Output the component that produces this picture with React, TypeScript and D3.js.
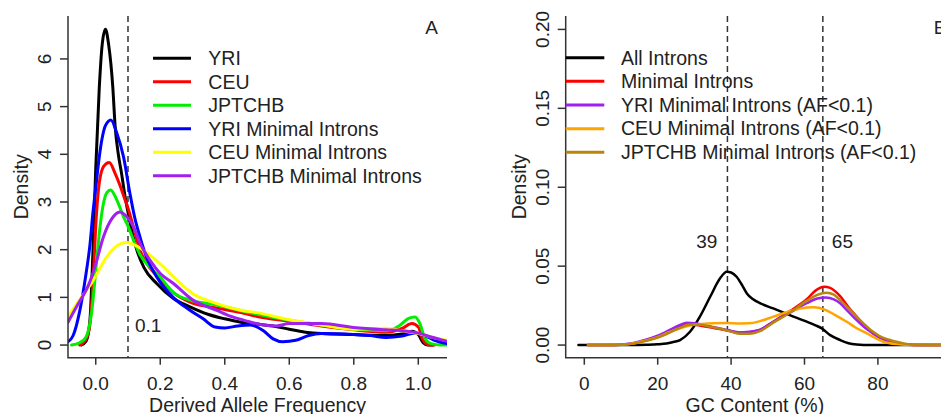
import React from 'react'
import * as d3 from 'd3'

// ---- panel A: derived allele frequency densities [freq, density]
const yriAll = [[-0.045,0],[-0.03,0.08],[-0.018,0.52],[-0.009,1.9],[0.0,3.7],[0.011,5.4],[0.02,6.3],[0.03,6.62],[0.04,6.3],[0.053,5.4],[0.06,4.6],[0.07,4.0],[0.08,3.6],[0.09,3.15],[0.101,2.75],[0.115,2.3],[0.127,2.0],[0.15,1.62],[0.189,1.29],[0.24,0.98],[0.292,0.8],[0.35,0.64],[0.4,0.55],[0.45,0.48],[0.5,0.44],[0.55,0.4],[0.6,0.33],[0.65,0.27],[0.7,0.24],[0.8,0.22],[0.9,0.2],[0.95,0.23],[0.98,0.29],[1.0,0.22],[1.015,0.05],[1.03,0],[1.045,0]]
const ceuAll = [[-0.05,0],[-0.035,0.07],[-0.02,0.35],[-0.009,1.23],[0.0,2.5],[0.011,3.4],[0.025,3.75],[0.042,3.83],[0.06,3.6],[0.075,3.35],[0.088,3.1],[0.101,2.85],[0.12,2.4],[0.137,2.0],[0.17,1.6],[0.2,1.38],[0.241,1.1],[0.3,0.88],[0.375,0.78],[0.45,0.68],[0.5,0.6],[0.6,0.5],[0.7,0.4],[0.8,0.32],[0.9,0.27],[0.95,0.35],[0.98,0.45],[1.0,0.38],[1.015,0.1],[1.035,0],[1.05,0]]
const jptchbAll = [[-0.075,0],[-0.05,0.05],[-0.03,0.17],[-0.012,0.73],[0.003,1.78],[0.012,2.4],[0.022,2.9],[0.035,3.2],[0.046,3.25],[0.06,3.12],[0.073,2.92],[0.086,2.69],[0.101,2.48],[0.12,2.15],[0.137,1.9],[0.17,1.62],[0.2,1.42],[0.241,1.1],[0.3,0.93],[0.375,0.84],[0.45,0.72],[0.5,0.65],[0.6,0.52],[0.7,0.42],[0.8,0.33],[0.9,0.3],[0.94,0.4],[0.97,0.56],[0.99,0.59],[1.005,0.45],[1.02,0.15],[1.04,0.03],[1.07,0],[1.089,0]]
const yriMinimal = [[-0.086,0.07],[-0.07,0.2],[-0.05,0.7],[-0.03,1.5],[-0.018,2.1],[-0.009,2.76],[0.0,3.3],[0.013,4.05],[0.03,4.6],[0.047,4.72],[0.065,4.45],[0.086,3.95],[0.106,3.18],[0.12,2.7],[0.137,2.27],[0.16,1.8],[0.189,1.43],[0.24,1.0],[0.292,0.73],[0.333,0.55],[0.37,0.38],[0.4,0.36],[0.44,0.4],[0.48,0.42],[0.52,0.3],[0.55,0.13],[0.58,0.07],[0.62,0.1],[0.66,0.2],[0.7,0.24],[0.8,0.22],[0.85,0.2],[0.9,0.16],[0.95,0.19],[0.99,0.25],[1.02,0.2],[1.05,0.1],[1.089,0.03]]
const ceuMinimal = [[-0.086,0.6],[-0.05,0.95],[-0.018,1.25],[0.0,1.45],[0.034,1.85],[0.06,2.05],[0.096,2.15],[0.12,2.1],[0.148,1.99],[0.2,1.7],[0.241,1.43],[0.3,1.08],[0.375,0.87],[0.45,0.73],[0.5,0.68],[0.6,0.53],[0.7,0.42],[0.8,0.33],[0.9,0.35],[0.95,0.3],[1.0,0.24],[1.05,0.15],[1.089,0.1]]
const jptchbMinimal = [[-0.086,0.48],[-0.06,0.8],[-0.03,1.15],[-0.018,1.33],[0.0,1.7],[0.024,2.27],[0.05,2.65],[0.075,2.79],[0.095,2.7],[0.117,2.48],[0.14,2.1],[0.168,1.78],[0.2,1.5],[0.241,1.29],[0.3,0.95],[0.375,0.73],[0.42,0.6],[0.47,0.5],[0.52,0.42],[0.56,0.4],[0.6,0.45],[0.7,0.45],[0.8,0.37],[0.9,0.32],[0.95,0.3],[1.0,0.25],[1.04,0.17],[1.089,0.08]]

const labelsA = ['YRI', 'CEU', 'JPTCHB', 'YRI Minimal Introns', 'CEU Minimal Introns', 'JPTCHB Minimal Introns']
const xTicksA = [0, 0.2, 0.4, 0.6, 0.8, 1.0]
const yTicksA = [0, 1, 2, 3, 4, 5, 6]
const cutoffA = [0.1]

// ---- panel B: GC content densities [gc %, density]
const allIntrons = [[-1.6,0],[5,0],[12,0],[17,0.0002],[20,0.0005],[22.4,0.001],[24,0.0018],[26.1,0.0032],[28.8,0.0084],[31.5,0.018],[34.3,0.0306],[37,0.0423],[38.8,0.0465],[40,0.046],[41.5,0.0433],[43,0.038],[44.3,0.0327],[46,0.029],[48,0.0264],[51.5,0.0232],[56,0.019],[60.6,0.0148],[63,0.0125],[64.7,0.0106],[67,0.0063],[69.7,0.0032],[72,0.0012],[74.2,0.0004],[78,0],[85,0],[99.6,0]]
const minimalIntrons = [[1,0],[8,0],[12,0.0006],[16,0.0025],[20,0.005],[22.4,0.0074],[25,0.011],[27.9,0.013],[30,0.0128],[33,0.0118],[36,0.0105],[39,0.0092],[42.4,0.0078],[45,0.0082],[48,0.0098],[51.5,0.0148],[56,0.0215],[60.6,0.029],[63,0.0345],[65.3,0.037],[67,0.0362],[69.7,0.031],[72,0.024],[74.2,0.018],[76.5,0.012],[78.7,0.0074],[81,0.0042],[83.3,0.0021],[87,0.0005],[90,0],[99.6,0]]
const yriLowAF = [[1,0],[8,0],[12,0.0008],[16,0.003],[20,0.006],[22.4,0.0085],[26.1,0.0127],[27.9,0.0141],[30,0.0138],[33,0.0125],[36,0.011],[39,0.0095],[42.4,0.008],[45,0.0085],[48,0.0098],[51.5,0.0148],[56,0.0205],[60.6,0.0265],[63.5,0.0295],[65.8,0.0302],[68,0.029],[69.7,0.0265],[72,0.021],[74.2,0.0158],[76.5,0.011],[78.7,0.0074],[81,0.0042],[83.3,0.0021],[87,0.0005],[90,0],[99.6,0]]
const ceuLowAF = [[1,0],[8,0],[12,0.0006],[16,0.0025],[20,0.005],[23,0.008],[26.1,0.0106],[29.7,0.0128],[32,0.0133],[35.1,0.0138],[38.8,0.014],[42.4,0.0137],[45,0.0138],[47.9,0.0152],[51.5,0.018],[56,0.0215],[60.6,0.0238],[62.5,0.024],[65.5,0.0225],[68,0.0195],[71.5,0.0148],[74,0.011],[77,0.0074],[79.5,0.0042],[81.5,0.0021],[85,0.0006],[90,0],[99.6,0]]
const jptchbLowAF = [[1,0],[8,0],[12,0.0005],[16,0.0022],[20,0.0048],[22.4,0.007],[26.1,0.011],[28.5,0.0128],[31,0.013],[34,0.0118],[37,0.0103],[40,0.0085],[42.4,0.0072],[45,0.0072],[48,0.009],[51.5,0.0142],[56,0.0205],[60.6,0.028],[63.5,0.0318],[66,0.0331],[68,0.032],[69.7,0.0285],[72,0.0232],[74.2,0.018],[76.5,0.0128],[78.7,0.0084],[81,0.005],[83.3,0.0032],[87,0.001],[90,0.0002],[99.6,0]]

const labelsB = ['All Introns', 'Minimal Introns', 'YRI Minimal Introns (AF<0.1)', 'CEU Minimal Introns (AF<0.1)', 'JPTCHB Minimal Introns (AF<0.1)']
const xTicksB = [0, 20, 40, 60, 80]
const yTicksB = [0, 0.05, 0.1, 0.15, 0.2]
const peaksB = [39, 65]

const colorsA = ['#000000', '#ff0000', '#00ee00', '#0000ff', '#ffff00', '#a020f0']
const colorsB = ['#000000', '#ff0000', '#a020f0', '#ffa500', '#b8860b']

const FONT = '"Liberation Sans", Arial, Helvetica, sans-serif'
const INK = '#222'
const AXIS = '#333'

// plot regions (R style "l" box)
const A = { left: 68, right: 447, top: 16, bottom: 357.7 }
const B = { left: 565.7, right: 950, top: 16, bottom: 357.7 }

const xA = d3.scaleLinear().domain([-0.086, 1.089]).range([A.left, A.right])
const yA = d3.scaleLinear().domain([-0.265, 6.9]).range([A.bottom, A.top])
const xB = d3.scaleLinear().domain([-5.07, 99.65]).range([B.left, B.right])
const yB = d3.scaleLinear().domain([-0.008, 0.2085]).range([B.bottom, B.top])

function Panel({ id, box, x, y, series, colors, lineWidth, xTicks, yTicks, xFmt, yFmt, xTitle, tag }) {
  const line = d3.line()
    .x(d => x(d[0]))
    .y(d => y(d[1]))
    .curve(d3.curveMonotoneX)
  const midY = (box.top + box.bottom) / 2

  return (
    <g>
      <defs>
        <clipPath id={id}>
          <rect x={box.left} y={box.top} width={box.right - box.left} height={box.bottom - box.top} />
        </clipPath>
      </defs>

      <g clipPath={`url(#${id})`} fill="none" strokeLinejoin="round" strokeLinecap="round">
        {series.map((pts, i) => (
          <path key={i} d={line(pts)} stroke={colors[i]} strokeWidth={lineWidth} />
        ))}
      </g>

      {/* box: left + bottom */}
      <path d={`M${box.left},${box.top}V${box.bottom}H${box.right}`} fill="none" stroke={AXIS} strokeWidth={1.5} />

      {/* x axis */}
      {xTicks.map(t => (
        <g key={'x' + t}>
          <line x1={x(t)} x2={x(t)} y1={box.bottom} y2={box.bottom + 7} stroke={AXIS} strokeWidth={1.5} />
          <text x={x(t)} y={390} textAnchor="middle" fontSize={19} fill={INK}>{xFmt(t)}</text>
        </g>
      ))}
      <text x={(box.left + Math.min(box.right, 941 + 3)) / 2} y={412} textAnchor="middle" fontSize={19.5} fill={INK}>{xTitle}</text>

      {/* y axis, labels rotated like R's las=0 */}
      {yTicks.map(t => (
        <g key={'y' + t}>
          <line x1={box.left - 8} x2={box.left} y1={y(t)} y2={y(t)} stroke={AXIS} strokeWidth={1.5} />
          <text transform={`translate(${box.left - 17},${y(t)}) rotate(-90)`} textAnchor="middle" fontSize={19} fill={INK}>{yFmt(t)}</text>
        </g>
      ))}
      <text transform={`translate(${box.left - 40},${midY}) rotate(-90)`} textAnchor="middle" fontSize={19.5} fill={INK}>Density</text>

      <text x={tag.x} y={33.5} textAnchor="middle" fontSize={19} fill={INK}>{tag.text}</text>
    </g>
  )
}

function Legend({ x0, x1, textX, y0, step, labels, colors }) {
  return (
    <g>
      {labels.map((lab, i) => {
        const yy = y0 + i * step
        return (
          <g key={lab}>
            <line x1={x0} x2={x1} y1={yy} y2={yy} stroke={colors[i]} strokeWidth={3} />
            <text x={textX} y={yy + 6.8} fontSize={19.5} fill={INK}>{lab}</text>
          </g>
        )
      })}
    </g>
  )
}

export default function App() {
  const seriesA = [yriAll, ceuAll, jptchbAll, yriMinimal, ceuMinimal, jptchbMinimal]
  const seriesB = [allIntrons, minimalIntrons, yriLowAF, ceuLowAF, jptchbLowAF]

  return (
    <svg width={941} height={414} style={{ position: 'absolute', left: 0, top: 0, background: '#fff' }} fontFamily={FONT}>
      {/* panel A */}
      {cutoffA.map(c => (
        <g key={c}>
          <line x1={xA(c)} x2={xA(c)} y1={A.top} y2={A.bottom} stroke={AXIS} strokeWidth={1.5} strokeDasharray="6,4" />
          <text x={xA(c) + 7} y={yA(0.27)} fontSize={19} fill={INK}>{c}</text>
        </g>
      ))}
      <Panel
        id="clipA" box={A} x={xA} y={yA}
        series={seriesA} colors={colorsA} lineWidth={3}
        xTicks={xTicksA} yTicks={yTicksA}
        xFmt={t => t.toFixed(1)} yFmt={t => String(t)}
        xTitle="Derived Allele Frequency"
        tag={{ x: 431.5, text: 'A' }}
      />
      <Legend x0={153} x1={191} textX={208.3} y0={58.3} step={23.5} labels={labelsA} colors={colorsA} />

      {/* panel B */}
      {peaksB.map((p, i) => (
        <g key={p}>
          <line x1={xB(p)} x2={xB(p)} y1={B.top} y2={B.bottom} stroke={AXIS} strokeWidth={1.5} strokeDasharray="6,4" />
          <text
            x={i === 0 ? xB(p) - 10 : xB(p) + 9}
            y={yB(0.0615)}
            textAnchor={i === 0 ? 'end' : 'start'}
            fontSize={19} fill={INK}>{p}</text>
        </g>
      ))}
      <Panel
        id="clipB" box={B} x={xB} y={yB}
        series={seriesB} colors={colorsB} lineWidth={2.5}
        xTicks={xTicksB} yTicks={yTicksB}
        xFmt={t => String(t)} yFmt={t => t.toFixed(2)}
        xTitle="GC Content (%)"
        tag={{ x: 940, text: 'B' }}
      />
      <Legend x0={B.left} x1={604.3} textX={621} y0={57.7} step={23.65} labels={labelsB} colors={colorsB} />
    </svg>
  )
}
